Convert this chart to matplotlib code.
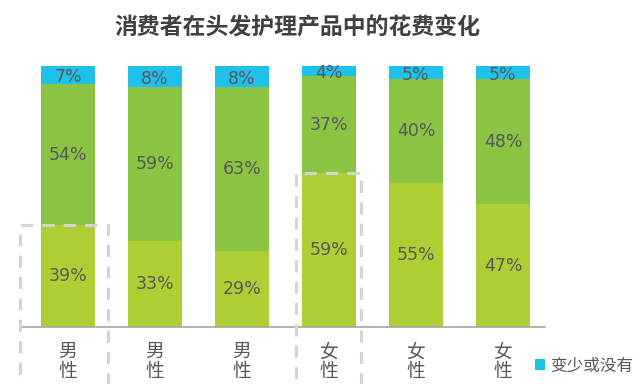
import matplotlib.pyplot as plt
from matplotlib.patches import Rectangle

plt.rcParams['font.family'] = ['Noto Sans CJK SC', 'DejaVu Sans']

# data
categories = ['男\n性', '男\n性', '男\n性', '女\n性', '女\n性', '女\n性']
bottom_vals = [39, 33, 29, 59, 55, 47]
middle_vals = [54, 59, 63, 37, 40, 48]
top_vals = [7, 8, 8, 4, 5, 5]
top_name = '变少或没有'
boxed = [0, 3]  # bars highlighted with a dashed box

c_bottom = '#AECF33'
c_middle = '#8BC342'
c_top = '#1FC0EA'
txt_col = '#595959'

fig = plt.figure(figsize=(6.4, 3.84), dpi=100)
ax = fig.add_axes([20 / 640, 0.1484, 525 / 640, 0.6797])

x = list(range(len(categories)))
width = 0.62
ax.bar(x, bottom_vals, width, color=c_bottom)
ax.bar(x, middle_vals, width, bottom=bottom_vals, color=c_middle)
mid_top = [b + m for b, m in zip(bottom_vals, middle_vals)]
h_top = ax.bar(x, top_vals, width, bottom=mid_top, color=c_top, label=top_name)

# percent labels in the middle of each segment
for i in x:
    ax.text(i, bottom_vals[i] / 2, f'{bottom_vals[i]}%', ha='center', va='center',
            fontsize=12.5, color=txt_col, family='DejaVu Sans')
    ax.text(i, bottom_vals[i] + middle_vals[i] / 2, f'{middle_vals[i]}%', ha='center',
            va='center', fontsize=12.5, color=txt_col, family='DejaVu Sans')
    ax.text(i, mid_top[i] + top_vals[i] / 2 - 0.8, f'{top_vals[i]}%', ha='center',
            va='center', fontsize=12.5, color=txt_col, family='DejaVu Sans')
    ax.text(i, -5.5, categories[i], ha='center', va='top', fontsize=13.5,
            color=txt_col, linespacing=0.9)

# dashed highlight boxes around the bottom segments
for i in boxed:
    left = -0.55 if i == 0 else i - 0.38
    w = 1.01 if i == 0 else 0.75
    ax.add_patch(Rectangle((left, -40), w, 40 + bottom_vals[i], fill=False,
                           edgecolor='#D4D4D4', lw=2.2, ls=(0, (4, 3)),
                           clip_on=False, zorder=5))

ax.set_xlim(-0.552, 5.483)
ax.set_ylim(0, 100)
for s in ['top', 'left', 'right']:
    ax.spines[s].set_visible(False)
ax.spines['bottom'].set_color('#A6A6A6')
ax.spines['bottom'].set_linewidth(1.2)
ax.set_xticks([])
ax.set_yticks([])

fig.legend(handles=[h_top], labels=[top_name], loc='center left',
           bbox_to_anchor=(520 / 640, 1 - 366 / 384), frameon=False, fontsize=12,
           handlelength=0.6, handleheight=0.6, handletextpad=0.3, labelcolor=txt_col)

fig.text(297 / 640, 1 - 28 / 384, '消费者在头发护理产品中的花费变化', ha='center', va='center',
         fontsize=16.5, fontweight='bold', color='#404040')

fig.savefig('out.png', dpi=100)
